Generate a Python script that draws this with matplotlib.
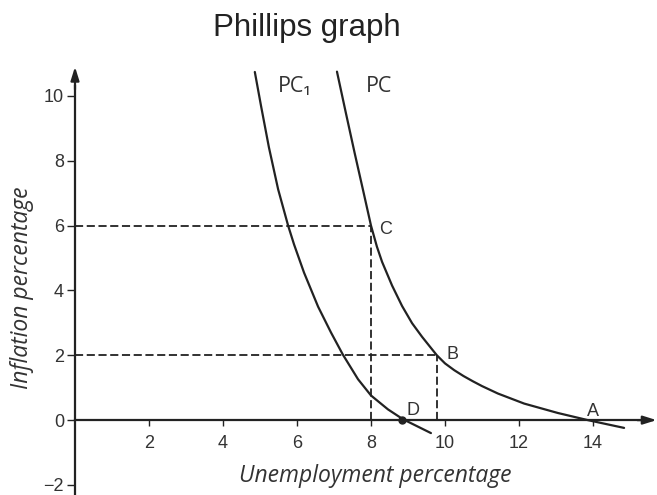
import matplotlib
matplotlib.use("Agg")
import matplotlib.pyplot as plt

# values
pc1_x = [4.86, 5.03, 5.24, 5.49, 5.76, 5.92, 6.19, 6.57, 6.92, 7.24, 7.65, 8.0, 8.46, 8.86, 9.62]
pc1_y = [10.74, 9.68, 8.42, 7.12, 6.0, 5.42, 4.55, 3.50, 2.70, 2.02, 1.26, 0.76, 0.33, 0.03, -0.40]

pc_x = [7.08, 7.32, 7.56, 7.79, 8.0, 8.16, 8.30, 8.57, 8.84, 9.11, 9.38, 9.59, 9.78,
        10.0, 10.25, 10.5, 10.75, 11.0, 11.43, 12.14, 13.05, 13.86, 14.84]
pc_y = [10.75, 9.48, 8.23, 7.07, 6.0, 5.35, 4.88, 4.15, 3.52, 2.99, 2.57, 2.27, 2.0,
        1.75, 1.54, 1.36, 1.20, 1.05, 0.82, 0.51, 0.22, 0.0, -0.24]

point_c = (8.0, 6.0)
point_b = (9.78, 2.0)
point_d = (8.85, 0.0)

x_ticks = [2, 4, 6, 8, 10, 12, 14]
y_ticks = [-2, 0, 2, 4, 6, 8, 10]

ink = "#222222"
txt = "#333333"

fig = plt.figure(figsize=(6.57, 4.95), dpi=100)
ax = fig.add_axes([0, 0, 1, 1])
ax.set_xlim(-75 / 37, (657 - 75) / 37)
ax.set_ylim(-2.31, 12.96)

# axes through the origin, arrows at the ends
for side in ["top", "right"]:
    ax.spines[side].set_visible(False)
ax.spines["left"].set_position(("data", 0))
ax.spines["bottom"].set_position(("data", 0))
ax.spines["left"].set_bounds(-2.31, 10.3)
ax.spines["bottom"].set_bounds(0, 15.3)
for side in ["left", "bottom"]:
    ax.spines[side].set_color(ink)
    ax.spines[side].set_linewidth(1.6)
arrow = dict(arrowstyle="-|>,head_length=0.8,head_width=0.25", color=ink, lw=1.6,
             shrinkA=0, shrinkB=0)
ax.annotate("", xy=(0, 10.9), xytext=(0, 10.2), arrowprops=arrow)
ax.annotate("", xy=(15.72, 0), xytext=(15.2, 0), arrowprops=arrow)

ax.set_xticks(x_ticks)
ax.set_yticks(y_ticks)
ax.tick_params(axis="y", direction="out", length=6, width=1, pad=2, labelsize=13,
               colors=ink, labelcolor=txt)
ax.tick_params(axis="x", direction="out", length=4, width=1, pad=7, labelsize=13,
               colors=ink, labelcolor=txt)
for lab in ax.get_xticklabels() + ax.get_yticklabels():
    lab.set_family("Liberation Sans")

# dashed guide lines to C and B
dash = dict(color=ink, lw=1.3, dashes=(4.5, 2))
ax.plot([0, point_c[0]], [point_c[1], point_c[1]], **dash)
ax.plot([point_c[0], point_c[0]], [0, point_c[1]], **dash)
ax.plot([0, point_b[0]], [point_b[1], point_b[1]], **dash)
ax.plot([point_b[0], point_b[0]], [0, point_b[1]], **dash)

# the two Phillips curves
ax.plot(pc1_x, pc1_y, color=ink, lw=1.6, solid_capstyle="round", solid_joinstyle="round")
ax.plot(pc_x, pc_y, color=ink, lw=1.6, solid_capstyle="round", solid_joinstyle="round")
ax.plot(point_d[0], point_d[1], "o", color=ink, ms=5)

ax.text(5.49, 10.12, "PC\u2081", fontsize=15.5, color=txt, family=["Open Sans", "Noto Sans", "DejaVu Sans"])
ax.text(7.86, 10.12, "PC", fontsize=15.5, color=txt, family="Open Sans")

pt_font = dict(fontsize=13, color=txt, family="Liberation Sans")
ax.text(8.22, 5.75, "C", **pt_font)
ax.text(10.03, 1.9, "B", **pt_font)
ax.text(8.97, 0.15, "D", **pt_font)
ax.text(13.84, 0.12, "A", **pt_font)

ax.set_xlabel("Unemployment percentage", fontsize=16.5, color=txt, family="Open Sans",
              style="italic", va="center")
ax.xaxis.set_label_coords(375 / 657, 1 - 476 / 495)
ax.set_ylabel("Inflation percentage", fontsize=16.5, color=txt, family="Open Sans",
              style="italic", va="center")
ax.yaxis.set_label_coords(22 / 657, 1 - 288 / 495)

fig.text(307 / 657, 1 - 28 / 495, "Phillips graph", fontsize=22.5, color=ink,
         family="Liberation Sans", ha="center", va="center")

fig.savefig("out.png", dpi=100, facecolor="white")
